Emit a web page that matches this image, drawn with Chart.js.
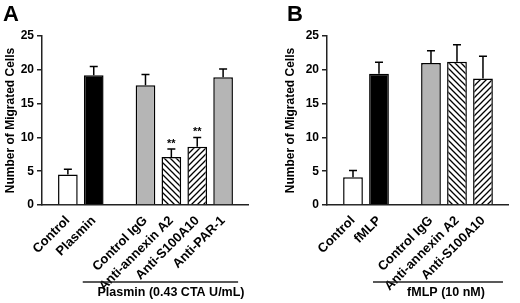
<!DOCTYPE html>
<html>
<head>
<meta charset="utf-8">
<script src="https://cdn.jsdelivr.net/npm/chart.js@4.4.1/dist/chart.umd.min.js"></script>
<style>
  html, body { margin: 0; padding: 0; background: #fff; }
  #contenedor { position: relative; width: 520px; height: 303px; }
  canvas { position: absolute; top: 0; }
</style>
</head>
<body>
<div id="contenedor">
  <canvas id="graficoA" width="260" height="303" style="left:0"></canvas>
  <canvas id="graficoB" width="260" height="303" style="left:260px"></canvas>
</div>
<script>
// Panel A - plasmina
const categoriasA = ['', 'Control', 'Plasmin', '', 'Control IgG', 'Anti-annexin A2', 'Anti-S100A10', 'Anti-PAR-1', ''];
const valoresA = [null, 4.5, 19.2, null, 17.7, 7.1, 8.6, 18.9, null];
const erroresA = [null, 0.8, 1.3, null, 1.6, 1.2, 1.4, 1.2, null];
const marcasA = ['', '', '', '', '', '**', '**', '', ''];
const rellenosA = ['', 'blanco', 'negro', '', 'gris', 'barraInv', 'barra', 'gris', ''];

// Panel B - fMLP
const categoriasB = ['', 'Control', 'fMLP', '', 'Control IgG', 'Anti-annexin A2', 'Anti-S100A10', ''];
const valoresB = [null, 4.1, 19.4, null, 21.0, 21.2, 18.7, null];
const erroresB = [null, 1.0, 1.7, null, 1.8, 2.5, 3.3, null];
const marcasB = ['', '', '', '', '', '', '', ''];
const rellenosB = ['', 'blanco', 'negro', '', 'gris', 'barraInv', 'barra', ''];

const ticksY = [0, 5, 10, 15, 20, 25];
const fuente = "'Liberation Sans', Arial, sans-serif";

// Patron rayado para las barras de anticuerpos
function crearRayado(invertido) {
    const s = 6;
    const c = document.createElement('canvas');
    c.width = s; c.height = s;
    const g = c.getContext('2d');
    g.fillStyle = '#fff';
    g.fillRect(0, 0, s, s);
    g.strokeStyle = '#000';
    g.lineWidth = 1.3;
    g.beginPath();
    if (invertido) {
        g.moveTo(-1, -1); g.lineTo(s + 1, s + 1);
        g.moveTo(-1, s - 1); g.lineTo(1, s + 1);
        g.moveTo(s - 1, -1); g.lineTo(s + 1, 1);
    } else {
        g.moveTo(-1, s + 1); g.lineTo(s + 1, -1);
        g.moveTo(-1, 1); g.lineTo(1, -1);
        g.moveTo(s - 1, s + 1); g.lineTo(s + 1, s - 1);
    }
    g.stroke();
    return g.createPattern(c, 'repeat');
}

function colorRelleno(tipo) {
    if (tipo === 'blanco') return '#ffffff';
    if (tipo === 'negro') return '#000000';
    if (tipo === 'gris') return '#b5b5b5';
    if (tipo === 'barra') return crearRayado(false);
    if (tipo === 'barraInv') return crearRayado(true);
    return 'rgba(0,0,0,0)';
}

// Barras de error (solo hacia arriba) y asteriscos
const pluginErrores = {
    id: 'errores',
    afterDatasetsDraw(chart, args, opts) {
        const ctx = chart.ctx;
        const meta = chart.getDatasetMeta(0);
        const y = chart.scales.y;
        ctx.save();
        ctx.strokeStyle = '#000';
        ctx.lineWidth = 1.5;
        opts.valores.forEach((v, i) => {
            if (v === null) return;
            const x = meta.data[i].x;
            const y0 = y.getPixelForValue(v);
            const y1 = y.getPixelForValue(v + opts.errores[i]);
            ctx.beginPath();
            ctx.moveTo(x, y0);
            ctx.lineTo(x, y1);
            ctx.moveTo(x - 4, y1);
            ctx.lineTo(x + 4, y1);
            ctx.stroke();
            if (opts.marcas[i]) {
                ctx.fillStyle = '#000';
                ctx.font = 'bold 11px ' + fuente;
                ctx.textAlign = 'center';
                ctx.fillText(opts.marcas[i], x, y1 - 2);
            }
        });
        ctx.restore();
    }
};

// Letra del panel y linea del tratamiento
const pluginAnotaciones = {
    id: 'anotaciones',
    afterDraw(chart, args, opts) {
        const ctx = chart.ctx;
        const x = chart.scales.x;
        ctx.save();
        ctx.fillStyle = '#000';
        ctx.font = 'bold 22px ' + fuente;
        ctx.textAlign = 'left';
        ctx.fillText(opts.letra, opts.letraX, 21);

        const xi = x.getPixelForValue(opts.desde) + opts.ajusteIzq;
        const xf = x.getPixelForValue(opts.hasta) + opts.ajusteDer;
        ctx.strokeStyle = '#222';
        ctx.lineWidth = 1.5;
        ctx.beginPath();
        ctx.moveTo(xi, 282);
        ctx.lineTo(xf, 282);
        ctx.stroke();

        ctx.font = 'bold 12.5px ' + fuente;
        ctx.textAlign = 'center';
        ctx.textBaseline = 'middle';
        ctx.fillText(opts.texto, opts.textoX, 293);
        ctx.restore();
    }
};

function crearGrafico(id, categorias, valores, errores, marcas, rellenos, anotaciones, padIzq, anchoEje, padDer) {
    const ctx = document.getElementById(id).getContext('2d');
    return new Chart(ctx, {
        type: 'bar',
        data: {
            labels: categorias,
            datasets: [{
                data: valores,
                backgroundColor: rellenos.map(t => colorRelleno(t)),
                borderColor: '#000',
                borderWidth: 1.5,
                barPercentage: 0.76,
                categoryPercentage: 1
            }]
        },
        plugins: [pluginErrores, pluginAnotaciones],
        options: {
            responsive: false,
            animation: false,
            layout: { padding: { left: padIzq, right: padDer, top: 36, bottom: 0 } },
            plugins: {
                legend: { display: false },
                tooltip: { enabled: false },
                errores: { valores: valores, errores: errores, marcas: marcas },
                anotaciones: anotaciones
            },
            scales: {
                x: {
                    offset: false,
                    grid: { display: false },
                    border: { color: '#222', width: 1.5 },
                    ticks: {
                        autoSkip: false,
                        maxRotation: 45,
                        minRotation: 45,
                        padding: 0,
                        color: '#000',
                        font: { family: fuente, size: 13, weight: 'bold' }
                    },
                    afterFit: scale => { scale.height = 98; }
                },
                y: {
                    min: 0,
                    max: 25,
                    afterBuildTicks: axis => { axis.ticks = ticksY.map(v => ({ value: v })); },
                    grid: { display: true, drawOnChartArea: false, drawTicks: true, tickLength: 5, color: '#222', lineWidth: 1.5 },
                    border: { color: '#222', width: 1.5 },
                    ticks: {
                        padding: 3,
                        color: '#000',
                        font: { family: fuente, size: 12, weight: 'bold' }
                    },
                    title: {
                        display: true,
                        text: 'Number of Migrated Cells',
                        color: '#000',
                        padding: { top: 3, bottom: 0 },
                        font: { family: fuente, size: 12, weight: 'bold' }
                    },
                    afterFit: scale => { scale.width = anchoEje; }
                }
            }
        }
    });
}

crearGrafico('graficoA', categoriasA, valoresA, erroresA, marcasA, rellenosA,
    { letra: 'A', letraX: 3, desde: 2, hasta: 7, ajusteIzq: -11, ajusteDer: 15, texto: 'Plasmin (0.43 CTA U/mL)', textoX: 171 },
    0, 42, 3);

crearGrafico('graficoB', categoriasB, valoresB, erroresB, marcasB, rellenosB,
    { letra: 'B', letraX: 27, desde: 2, hasta: 6, ajusteIzq: -6, ajusteDer: 20, texto: 'fMLP (10 nM)', textoX: 186 },
    20, 47, 4);
</script>
</body>
</html>
